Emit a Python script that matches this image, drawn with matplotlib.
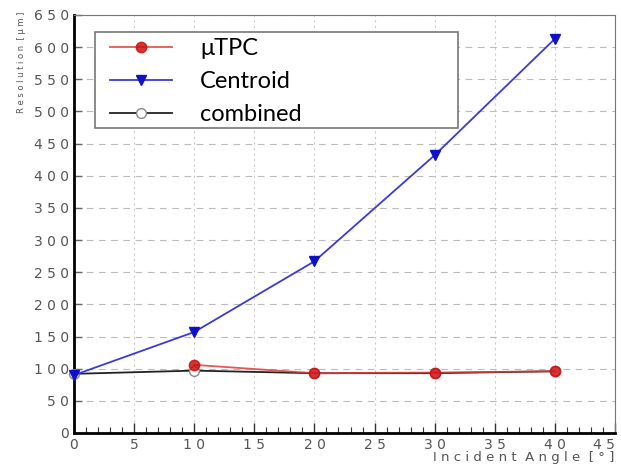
import matplotlib
matplotlib.use('Agg')
from matplotlib import pyplot as plt
from matplotlib.patches import Rectangle
from matplotlib.ticker import MultipleLocator

# angles in degrees
angles = [0, 10, 20, 30, 40]
utpc_angles = [10, 20, 30, 40]

# resolution values in um
utpc = [106, 93, 94, 96]
centroid = [90, 157, 267, 432, 613]
combined = [92, 97, 93, 93, 96]

x_ticks = list(range(0, 50, 5))
y_ticks = list(range(0, 700, 50))


def spaced(v):
    return ' '.join(str(v))


fig = plt.figure(figsize=(6.21, 4.66), dpi=100)
ax = fig.add_axes([74 / 621, 33 / 466, 541 / 621, 418 / 466])

ax.plot(angles, centroid, color='#3a3ad8', lw=1.3, marker='v', ms=7,
        mfc='#1010c8', mec='#1010c8', label='Centroid', zorder=4.5, clip_on=False)
ax.plot(angles, combined, color='#222222', lw=1.3, marker='o', ms=7,
        mfc='white', mec='#888888', label='combined', zorder=4, clip_on=False)
ax.plot(utpc_angles, utpc, color='#e03a3a', lw=1.3, marker='o', ms=7.5,
        mfc='#cc1010', mec='#cc1010', label='\u03bcTPC', zorder=5, alpha=0.85)

ax.set_xlim(0, 45)
ax.set_ylim(0, 650)
ax.set_xticks(x_ticks)
ax.set_xticklabels([spaced(v) for v in x_ticks])
ax.set_yticks(y_ticks)
ax.set_yticklabels([spaced(v) for v in y_ticks])
ax.xaxis.set_minor_locator(MultipleLocator(1))

ax.tick_params(axis='both', which='major', direction='in', length=7, width=1,
               labelsize=10, labelcolor='#555555', color='#333333')
ax.tick_params(axis='x', which='minor', direction='in', length=4, width=0.8,
               color='#333333')
ax.tick_params(axis='y', which='major', length=6, color='#666666')
ax.get_xticklabels()[-1].set_ha('right')

ax.yaxis.grid(True, ls=(0, (6, 5)), color='#bbbbbb', lw=0.8)
ax.xaxis.grid(True, ls=(0, (2, 3)), color='#cccccc', lw=0.8)
ax.set_axisbelow(True)

ax.spines['left'].set_linewidth(2)
ax.spines['bottom'].set_linewidth(2)
ax.spines['top'].set_color('#777777')
ax.spines['right'].set_color('#777777')

# legend: frame drawn separately, text spills below it like in the original
ax.add_patch(Rectangle((21 / 541, (433 - 128) / 418), 363 / 541, 96 / 418,
                       transform=ax.transAxes, fc='white', ec='#777777',
                       lw=1.2, zorder=6))
h, l = ax.get_legend_handles_labels()
order = [2, 0, 1]
leg = ax.legend([h[i] for i in order], [l[i] for i in order],
                loc='upper left', bbox_to_anchor=(27 / 541, 1 - 14 / 418),
                frameon=False, prop={'family': 'Lato', 'size': 17},
                handlelength=2.6, handletextpad=1.2, labelspacing=0.5,
                borderaxespad=0)
leg.set_zorder(7)

fig.text(0.035, 0.975, 'R e s o l u t i o n  [ \u03bc m ]', rotation=90,
         ha='center', va='top', fontsize=6, color='#555555')
fig.text(0.99, 0.005, 'I n c i d e n t  A n g l e  [ \u00b0 ]', ha='right',
         va='bottom', fontsize=9.5, color='#555555')

plt.savefig('out.png', dpi=100)
